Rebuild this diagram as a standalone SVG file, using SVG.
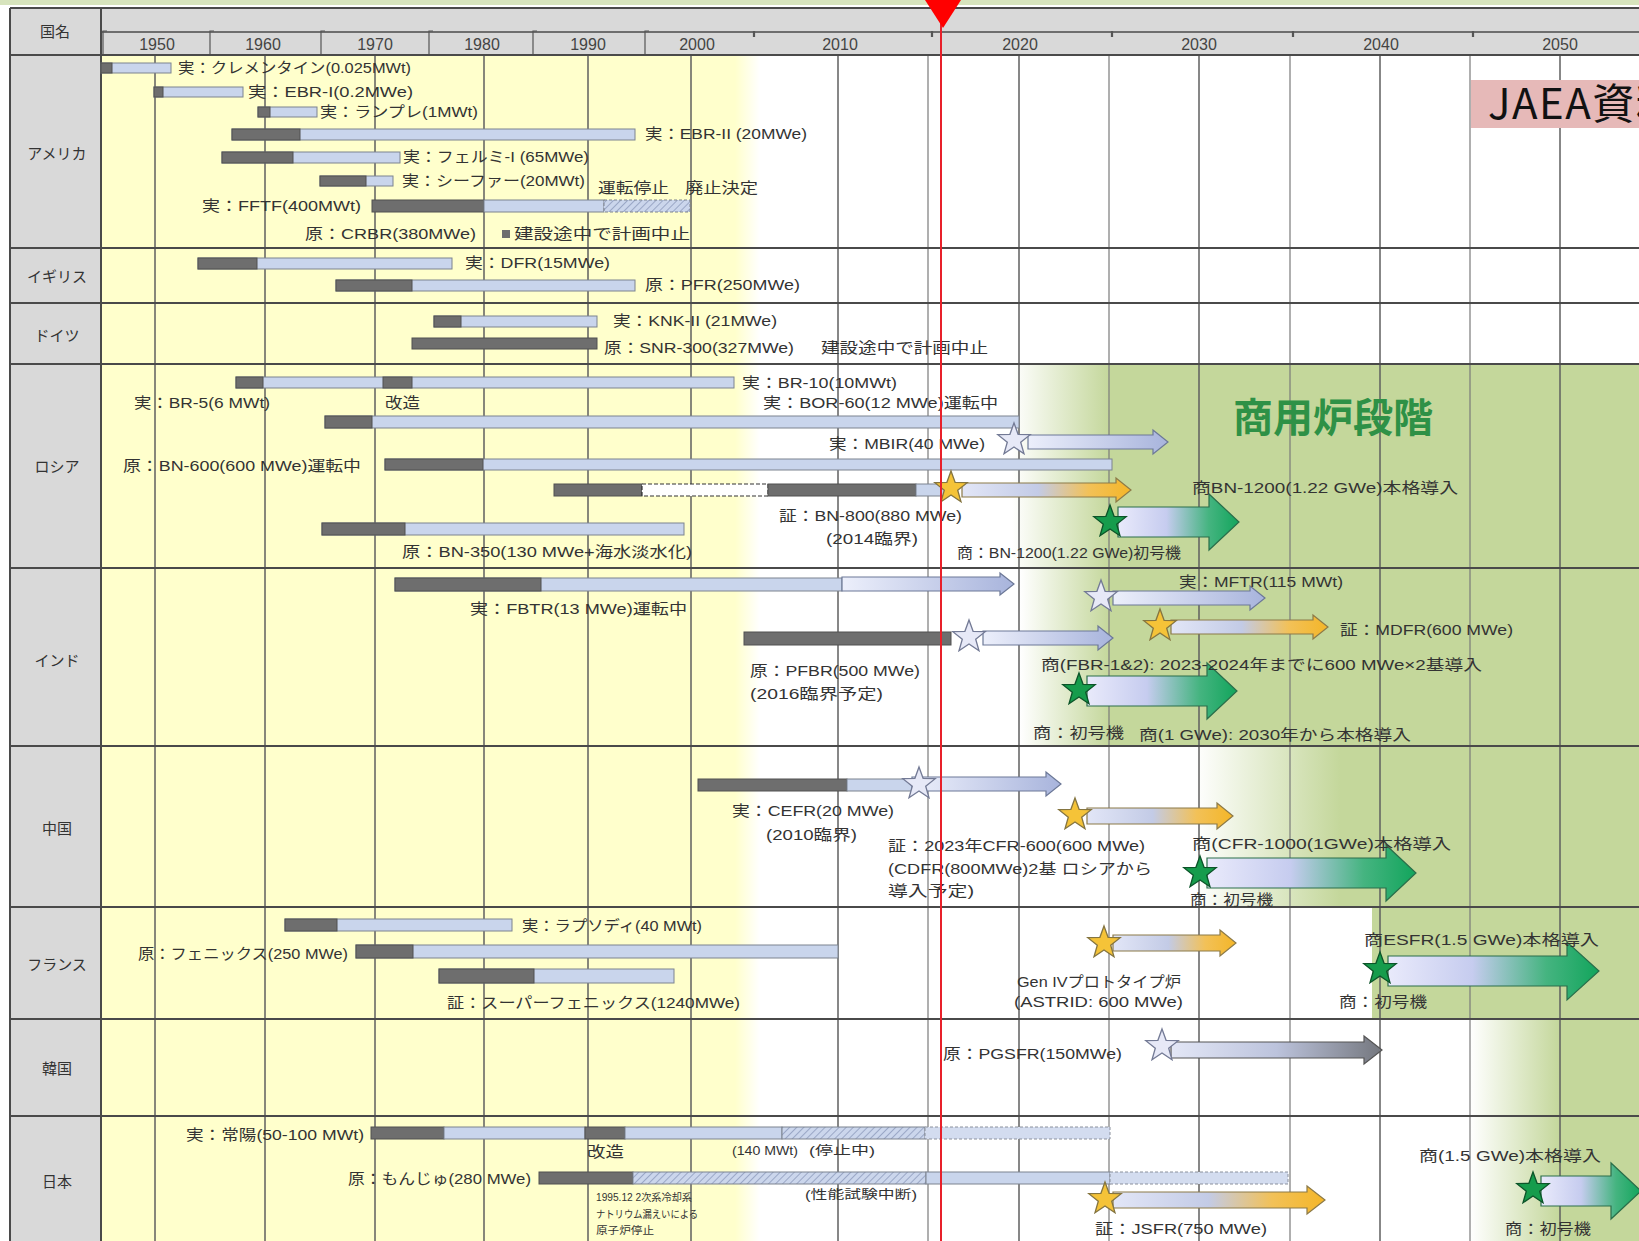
<svg xmlns="http://www.w3.org/2000/svg" width="1639" height="1241" viewBox="0 0 1639 1241">
<defs>
<style>
.t{font-family:"Liberation Sans","Noto Sans CJK JP",sans-serif;font-size:15px;fill:#333}
.s{font-size:10.5px}
.m{font-size:12.5px}
.cn{font-family:"Noto Sans CJK JP",sans-serif;font-size:15px;fill:#333;text-anchor:middle}
.yr{font-family:"Liberation Sans",sans-serif;font-size:16px;fill:#444;text-anchor:middle}
.dk{fill:#6e6e6e;stroke:#505050;stroke-width:1}
.lt{fill:#c9d5ec;stroke:#7d838f;stroke-width:1}
.ht{fill:url(#hatch);stroke:#7d838f;stroke-width:1}
.ds{fill:#d3dcef;stroke:#8a909c;stroke-width:1;stroke-dasharray:3 2}
.dw{fill:#fff;stroke:#333;stroke-width:1.2;stroke-dasharray:4 2}
.aB{fill:url(#gB);stroke:#6c7897;stroke-width:1.2}
.aY{fill:url(#gY);stroke:#8c7a48;stroke-width:1.2}
.aG{fill:url(#gG);stroke:#2a6e4a;stroke-width:1.2}
.aK{fill:url(#gK);stroke:#555;stroke-width:1.2}
.sL{fill:#e7e9f7;stroke:#737a95;stroke-width:1.3}
.sY{fill:#f5c338;stroke:#857540;stroke-width:1.3}
.sG{fill:#169c4c;stroke:#0c5429;stroke-width:1.3}
.gl{stroke:#5f5f5f;stroke-width:1.5}
.gm{stroke:#7a7a7a;stroke-width:1.2}
.rl{stroke:#4a4a4a;stroke-width:2}
.jb{font-family:"Noto Sans CJK JP",sans-serif;font-size:42px;letter-spacing:1.5px;fill:#111}
</style>
<pattern id="hatch" width="5" height="5" patternUnits="userSpaceOnUse" patternTransform="rotate(45)">
<rect width="5" height="5" fill="#cbd6ec"/><line x1="0" y1="0" x2="0" y2="5" stroke="#8d9bbd" stroke-width="1.6"/>
</pattern>
<linearGradient id="gB" x1="0" x2="1" y1="0" y2="0"><stop offset="0" stop-color="#eceffb"/><stop offset="1" stop-color="#a8b4dc"/></linearGradient>
<linearGradient id="gY" x1="0" x2="1" y1="0" y2="0"><stop offset="0" stop-color="#e2e6f7"/><stop offset="0.45" stop-color="#c3cbe6"/><stop offset="0.75" stop-color="#f2c158"/><stop offset="1" stop-color="#f4b628"/></linearGradient>
<linearGradient id="gG" x1="0" x2="1" y1="0" y2="0"><stop offset="0" stop-color="#e9eafb"/><stop offset="0.4" stop-color="#c6ccef"/><stop offset="0.75" stop-color="#45b480"/><stop offset="1" stop-color="#12a55c"/></linearGradient>
<linearGradient id="gK" x1="0" x2="1" y1="0" y2="0"><stop offset="0" stop-color="#e3e7f6"/><stop offset="0.5" stop-color="#bcc3dc"/><stop offset="1" stop-color="#74777e"/></linearGradient>
<linearGradient id="gYel" gradientUnits="userSpaceOnUse" x1="735" x2="760" y1="0" y2="0"><stop offset="0" stop-color="#ffffcc"/><stop offset="1" stop-color="#ffffcc" stop-opacity="0"/></linearGradient>
<linearGradient id="gRu" gradientUnits="userSpaceOnUse" x1="1012" x2="1110" y1="0" y2="0"><stop offset="0" stop-color="#c4d79b" stop-opacity="0"/><stop offset="1" stop-color="#c4d79b"/></linearGradient>
<linearGradient id="gIn" gradientUnits="userSpaceOnUse" x1="1020" x2="1110" y1="0" y2="0"><stop offset="0" stop-color="#c4d79b" stop-opacity="0"/><stop offset="1" stop-color="#c4d79b"/></linearGradient>
<linearGradient id="gCn" gradientUnits="userSpaceOnUse" x1="1195" x2="1340" y1="0" y2="0"><stop offset="0" stop-color="#c4d79b" stop-opacity="0"/><stop offset="1" stop-color="#c4d79b"/></linearGradient>
<linearGradient id="gKr" gradientUnits="userSpaceOnUse" x1="1470" x2="1560" y1="0" y2="0"><stop offset="0" stop-color="#c4d79b" stop-opacity="0"/><stop offset="1" stop-color="#c4d79b"/></linearGradient>
<polygon id="star" points="0,-17 4.1,-5.7 16.2,-5.3 6.7,2.2 10,13.8 0,7 -10,13.8 -6.7,2.2 -16.2,-5.3 -4.1,-5.7"/>
</defs>

<g id="background">
<rect x="0" y="0" width="1639" height="1241" fill="#ffffff"/>
<rect x="0" y="0" width="1639" height="5" fill="#d7e4bd"/>
<rect x="10" y="8" width="1629" height="47" fill="#d9d9d9"/>
<rect x="10" y="55" width="91" height="1186" fill="#d9d9d9"/>
<rect x="101" y="55" width="634" height="1186" fill="#ffffcc"/>
<rect x="735" y="55" width="25" height="1186" fill="url(#gYel)"/>
<rect x="1012" y="364" width="627" height="204" fill="url(#gRu)"/>
<rect x="1020" y="568" width="619" height="178" fill="url(#gIn)"/>
<rect x="1195" y="746" width="444" height="161" fill="url(#gCn)"/>
<rect x="1372" y="907" width="267" height="112" fill="#c4d79b"/>
<rect x="1470" y="1019" width="169" height="222" fill="url(#gKr)"/>
</g>

<g id="grid">
<g class="gl">
<line x1="155" y1="55" x2="155" y2="1241"/><line x1="265" y1="55" x2="265" y2="1241"/><line x1="375" y1="55" x2="375" y2="1241"/><line x1="484" y1="55" x2="484" y2="1241"/><line x1="588" y1="55" x2="588" y2="1241"/><line x1="691" y1="55" x2="691" y2="1241"/><line x1="838" y1="55" x2="838" y2="1241"/><line x1="1019" y1="55" x2="1019" y2="1241"/><line x1="1199" y1="55" x2="1199" y2="1241"/><line x1="1380" y1="55" x2="1380" y2="1241"/><line x1="1560" y1="55" x2="1560" y2="1241"/>
</g>
<g class="gm">
<line x1="928" y1="55" x2="928" y2="1241"/><line x1="1109" y1="55" x2="1109" y2="1241"/><line x1="1290" y1="55" x2="1290" y2="1241"/><line x1="1470" y1="55" x2="1470" y2="1241"/>
</g>
<g class="rl">
<line x1="10" y1="8" x2="1639" y2="8"/>
<line x1="101" y1="32" x2="1639" y2="32" stroke-width="1.5"/>
<line x1="10" y1="55" x2="1639" y2="55"/>
<line x1="10" y1="248" x2="1639" y2="248"/>
<line x1="10" y1="303" x2="1639" y2="303"/>
<line x1="10" y1="364" x2="1639" y2="364"/>
<line x1="10" y1="568" x2="1639" y2="568"/>
<line x1="10" y1="746" x2="1639" y2="746"/>
<line x1="10" y1="907" x2="1639" y2="907"/>
<line x1="10" y1="1019" x2="1639" y2="1019"/>
<line x1="10" y1="1116" x2="1639" y2="1116"/>
<line x1="10" y1="8" x2="10" y2="1241"/>
<line x1="101" y1="8" x2="101" y2="1241"/>
</g>
<g stroke="#555" stroke-width="1.2" fill="none">
<path d="M103 54V31h4M210 54V31h4M321 54V31h4M429 54V31h4M533 54V31h4M645 54V31h4"/>
<path d="M754 31v6M932 31v6M1112 31v6M1293 31v6M1473 31v6" stroke-width="2.2"/>
</g>
</g>

<g id="header">
<text class="cn" x="55" y="37">国名</text>
<text class="yr" x="157" y="50">1950</text><text class="yr" x="263" y="50">1960</text><text class="yr" x="375" y="50">1970</text><text class="yr" x="482" y="50">1980</text><text class="yr" x="588" y="50">1990</text><text class="yr" x="697" y="50">2000</text><text class="yr" x="840" y="50">2010</text><text class="yr" x="1020" y="50">2020</text><text class="yr" x="1199" y="50">2030</text><text class="yr" x="1381" y="50">2040</text><text class="yr" x="1560" y="50">2050</text>
</g>

<g id="countries">
<text class="cn" x="57" y="159">アメリカ</text>
<text class="cn" x="57" y="282">イギリス</text>
<text class="cn" x="57" y="341">ドイツ</text>
<text class="cn" x="57" y="472">ロシア</text>
<text class="cn" x="57" y="666">インド</text>
<text class="cn" x="57" y="834">中国</text>
<text class="cn" x="57" y="970">フランス</text>
<text class="cn" x="57" y="1074">韓国</text>
<text class="cn" x="57" y="1187">日本</text>
</g>

<g id="stage-labels">
<text x="1233" y="432" font-family="Noto Sans CJK JP,sans-serif" font-size="40" font-weight="bold" fill="#2e9146">商用炉段階</text>
<g id="source-box">
<rect x="1471" y="80" width="168" height="48" fill="#e6b9b8"/>
<text class="jb" x="1488" y="119">JAEA資料</text>
</g>
</g>

<g id="usa">
<g id="clementine"><rect class="lt" x="101" y="63" width="70" height="10"/><rect class="dk" x="101" y="63" width="11" height="10"/><text class="t" x="178" y="73" textLength="233" lengthAdjust="spacingAndGlyphs">実：クレメンタイン(0.025MWt)</text></g>
<g id="ebr1"><rect class="lt" x="154" y="87" width="89" height="10"/><rect class="dk" x="154" y="87" width="9" height="10"/><text class="t" x="248" y="97" textLength="165" lengthAdjust="spacingAndGlyphs">実：EBR-I(0.2MWe)</text></g>
<g id="lampre"><rect class="lt" x="258" y="107" width="59" height="10"/><rect class="dk" x="258" y="107" width="12" height="10"/><text class="t" x="320" y="117" textLength="158" lengthAdjust="spacingAndGlyphs">実：ランプレ(1MWt)</text></g>
<g id="ebr2"><rect class="lt" x="232" y="129" width="403" height="11"/><rect class="dk" x="232" y="129" width="68" height="11"/><text class="t" x="645" y="139" textLength="162" lengthAdjust="spacingAndGlyphs">実：EBR-II (20MWe)</text></g>
<g id="fermi"><rect class="lt" x="222" y="152" width="178" height="11"/><rect class="dk" x="222" y="152" width="71" height="11"/><text class="t" x="403" y="162" textLength="186" lengthAdjust="spacingAndGlyphs">実：フェルミ-I (65MWe)</text></g>
<g id="sefor"><rect class="lt" x="320" y="176" width="73" height="10"/><rect class="dk" x="320" y="176" width="46" height="10"/><text class="t" x="402" y="186" textLength="183" lengthAdjust="spacingAndGlyphs">実：シーファー(20MWt)</text><text class="t" x="598" y="193" textLength="71" lengthAdjust="spacingAndGlyphs">運転停止</text><text class="t" x="685" y="193" textLength="73" lengthAdjust="spacingAndGlyphs">廃止決定</text></g>
<g id="fftf"><rect class="dk" x="372" y="200" width="112" height="12"/><rect class="lt" x="484" y="200" width="120" height="12"/><rect class="ht" x="604" y="200" width="86" height="12" stroke-dasharray="3 2"/><text class="t" x="202" y="211" textLength="159" lengthAdjust="spacingAndGlyphs">実：FFTF(400MWt)</text></g>
<g id="crbr"><text class="t" x="305" y="239" textLength="171" lengthAdjust="spacingAndGlyphs">原：CRBR(380MWe)</text><rect x="502" y="230" width="8" height="8" fill="#6e6e6e"/><text class="t" x="514" y="239" textLength="176" lengthAdjust="spacingAndGlyphs">建設途中で計画中止</text></g>
</g>

<g id="uk">
<g id="dfr"><rect class="lt" x="198" y="258" width="254" height="11"/><rect class="dk" x="198" y="258" width="59" height="11"/><text class="t" x="465" y="268" textLength="145" lengthAdjust="spacingAndGlyphs">実：DFR(15MWe)</text></g>
<g id="pfr"><rect class="lt" x="336" y="280" width="299" height="11"/><rect class="dk" x="336" y="280" width="76" height="11"/><text class="t" x="645" y="290" textLength="155" lengthAdjust="spacingAndGlyphs">原：PFR(250MWe)</text></g>
</g>

<g id="germany">
<g id="knk2"><rect class="lt" x="434" y="316" width="163" height="11"/><rect class="dk" x="434" y="316" width="27" height="11"/><text class="t" x="613" y="326" textLength="164" lengthAdjust="spacingAndGlyphs">実：KNK-II (21MWe)</text></g>
<g id="snr300"><rect class="dk" x="412" y="338" width="185" height="11"/><text class="t" x="604" y="353" textLength="190" lengthAdjust="spacingAndGlyphs">原：SNR-300(327MWe)</text><text class="t" x="821" y="353" textLength="167" lengthAdjust="spacingAndGlyphs">建設途中で計画中止</text></g>
</g>

<g id="russia">
<g id="br5-br10"><rect class="lt" x="236" y="377" width="498" height="11"/><rect class="dk" x="236" y="377" width="27" height="11"/><rect class="dk" x="383" y="377" width="29" height="11"/><text class="t" x="742" y="388" textLength="155" lengthAdjust="spacingAndGlyphs">実：BR-10(10MWt)</text><text class="t" x="134" y="408" textLength="136" lengthAdjust="spacingAndGlyphs">実：BR-5(6 MWt)</text><text class="t" x="385" y="408" textLength="35" lengthAdjust="spacingAndGlyphs">改造</text></g>
<g id="bor60"><rect class="lt" x="325" y="416" width="694" height="12"/><rect class="dk" x="325" y="416" width="47" height="12"/><text class="t" x="763" y="408" textLength="235" lengthAdjust="spacingAndGlyphs">実：BOR-60(12 MWe)運転中</text></g>
<g id="mbir"><polygon class="aB" points="1028,435 1153,435 1153,430 1168,442 1153,454 1153,449 1028,449"/><use href="#star" x="1014" y="440" class="sL"/><text class="t" x="829" y="449" textLength="156" lengthAdjust="spacingAndGlyphs">実：MBIR(40 MWe)</text></g>
<g id="bn600"><rect class="lt" x="385" y="459" width="727" height="11"/><rect class="dk" x="385" y="459" width="98" height="11"/><text class="t" x="123" y="471" textLength="238" lengthAdjust="spacingAndGlyphs">原：BN-600(600 MWe)運転中</text></g>
<g id="bn800"><rect class="dk" x="554" y="484" width="88" height="12"/><rect class="dw" x="642" y="484" width="126" height="12"/><rect class="dk" x="768" y="484" width="148" height="12"/><rect class="lt" x="916" y="484" width="30" height="12"/><polygon class="aY" points="962,483 1116,483 1116,478 1131,490 1116,502 1116,497 962,497"/><use href="#star" x="951" y="488" class="sY"/><text class="t" x="779" y="521" textLength="183" lengthAdjust="spacingAndGlyphs">証：BN-800(880 MWe)</text><text class="t" x="826" y="544" textLength="92" lengthAdjust="spacingAndGlyphs">(2014臨界)</text></g>
<g id="bn350"><rect class="lt" x="322" y="523" width="362" height="12"/><rect class="dk" x="322" y="523" width="83" height="12"/><text class="t" x="402" y="557" textLength="290" lengthAdjust="spacingAndGlyphs">原：BN-350(130 MWe+海水淡水化)</text></g>
<g id="bn1200"><polygon class="aG" points="1118,507 1209,507 1209,494 1239,522 1209,550 1209,537 1118,537"/><use href="#star" x="1110" y="522" class="sG"/><text class="t" x="1192" y="493" textLength="266" lengthAdjust="spacingAndGlyphs">商BN-1200(1.22 GWe)本格導入</text><text class="t" x="957" y="558" textLength="224" lengthAdjust="spacingAndGlyphs">商：BN-1200(1.22 GWe)初号機</text></g>
</g>

<g id="india">
<g id="fbtr"><rect class="lt" x="395" y="578" width="447" height="13"/><rect class="dk" x="395" y="578" width="146" height="13"/><polygon class="aB" points="842,577 1000,577 1000,573 1014,584 1000,595 1000,591 842,591"/><text class="t" x="470" y="614" textLength="217" lengthAdjust="spacingAndGlyphs">実：FBTR(13 MWe)運転中</text></g>
<g id="mftr"><polygon class="aB" points="1113,591 1250,591 1250,586 1265,598 1250,610 1250,605 1113,605"/><use href="#star" x="1101" y="597" class="sL"/><text class="t" x="1179" y="587" textLength="164" lengthAdjust="spacingAndGlyphs">実：MFTR(115 MWt)</text></g>
<g id="mdfr"><polygon class="aY" points="1171,620 1313,620 1313,615 1328,627 1313,639 1313,634 1171,634"/><use href="#star" x="1160" y="626" class="sY"/><text class="t" x="1340" y="635" textLength="173" lengthAdjust="spacingAndGlyphs">証：MDFR(600 MWe)</text></g>
<g id="pfbr"><rect class="dk" x="744" y="632" width="207" height="13"/><polygon class="aB" points="983,631 1098,631 1098,626 1113,638 1098,650 1098,645 983,645"/><use href="#star" x="969" y="637" class="sL"/><text class="t" x="750" y="676" textLength="170" lengthAdjust="spacingAndGlyphs">原：PFBR(500 MWe)</text><text class="t" x="750" y="699" textLength="133" lengthAdjust="spacingAndGlyphs">(2016臨界予定)</text></g>
<g id="fbr12"><polygon class="aG" points="1087,676 1207,676 1207,663 1237,691 1207,719 1207,706 1087,706"/><use href="#star" x="1079" y="690" class="sG"/><text class="t" x="1041" y="670" textLength="441" lengthAdjust="spacingAndGlyphs">商(FBR-1&amp;2): 2023-2024年までに600 MWe×2基導入</text><text class="t" x="1033" y="738" textLength="91" lengthAdjust="spacingAndGlyphs">商：初号機</text><text class="t" x="1139" y="740" textLength="272" lengthAdjust="spacingAndGlyphs">商(1 GWe): 2030年から本格導入</text></g>
</g>

<g id="china">
<g id="cefr"><rect class="dk" x="698" y="779" width="149" height="12"/><rect class="lt" x="847" y="779" width="70" height="12"/><polygon class="aB" points="912,777 1046,777 1046,772 1061,784 1046,796 1046,791 912,791"/><use href="#star" x="919" y="784" class="sL"/><text class="t" x="732" y="816" textLength="162" lengthAdjust="spacingAndGlyphs">実：CEFR(20 MWe)</text><text class="t" x="766" y="840" textLength="91" lengthAdjust="spacingAndGlyphs">(2010臨界)</text></g>
<g id="cfr600"><polygon class="aY" points="1087,808 1217,808 1217,803 1233,816 1217,829 1217,824 1087,824"/><use href="#star" x="1075" y="815" class="sY"/><text class="t" x="888" y="851" textLength="257" lengthAdjust="spacingAndGlyphs">証：2023年CFR-600(600 MWe)</text><text class="t" x="888" y="874" textLength="264" lengthAdjust="spacingAndGlyphs">(CDFR(800MWe)2基 ロシアから</text><text class="t" x="888" y="896" textLength="86" lengthAdjust="spacingAndGlyphs">導入予定)</text></g>
<g id="cfr1000"><polygon class="aG" points="1207,858 1386,858 1386,845 1416,873 1386,901 1386,888 1207,888"/><use href="#star" x="1200" y="873" class="sG"/><text class="t" x="1192" y="849" textLength="259" lengthAdjust="spacingAndGlyphs">商(CFR-1000(1GWe)本格導入</text><text class="t" x="1190" y="905" textLength="83" lengthAdjust="spacingAndGlyphs">商：初号機</text></g>
</g>

<g id="france">
<g id="rapsodie"><rect class="lt" x="285" y="919" width="227" height="12"/><rect class="dk" x="285" y="919" width="52" height="12"/><text class="t" x="522" y="931" textLength="180" lengthAdjust="spacingAndGlyphs">実：ラプソディ(40 MWt)</text></g>
<g id="phenix"><rect class="lt" x="356" y="945" width="482" height="13"/><rect class="dk" x="356" y="945" width="57" height="13"/><text class="t" x="138" y="959" textLength="210" lengthAdjust="spacingAndGlyphs">原：フェニックス(250 MWe)</text></g>
<g id="superphenix"><rect class="lt" x="439" y="969" width="235" height="14"/><rect class="dk" x="439" y="969" width="95" height="14"/><text class="t" x="447" y="1008" textLength="293" lengthAdjust="spacingAndGlyphs">証：スーパーフェニックス(1240MWe)</text></g>
<g id="astrid"><polygon class="aY" points="1113,935 1220,935 1220,930 1236,943 1220,956 1220,951 1113,951"/><use href="#star" x="1104" y="943" class="sY"/><text class="t" x="1017" y="987" textLength="164" lengthAdjust="spacingAndGlyphs">Gen IVプロトタイプ炉</text><text class="t" x="1014" y="1007" textLength="169" lengthAdjust="spacingAndGlyphs">(ASTRID: 600 MWe)</text></g>
<g id="esfr"><polygon class="aG" points="1388,956 1567,956 1567,942 1599,971 1567,1000 1567,986 1388,986"/><use href="#star" x="1380" y="969" class="sG"/><text class="t" x="1364" y="945" textLength="235" lengthAdjust="spacingAndGlyphs">商ESFR(1.5 GWe)本格導入</text><text class="t" x="1339" y="1007" textLength="88" lengthAdjust="spacingAndGlyphs">商：初号機</text></g>
</g>

<g id="korea">
<g id="pgsfr"><polygon class="aK" points="1171,1042 1364,1042 1364,1036 1382,1050 1364,1064 1364,1058 1171,1058"/><use href="#star" x="1162" y="1046" class="sL"/><text class="t" x="943" y="1059" textLength="179" lengthAdjust="spacingAndGlyphs">原：PGSFR(150MWe)</text></g>
</g>

<g id="japan">
<g id="joyo"><rect class="dk" x="371" y="1127" width="73" height="12"/><rect class="lt" x="444" y="1127" width="141" height="12"/><rect class="dk" x="585" y="1127" width="40" height="12"/><rect class="lt" x="625" y="1127" width="157" height="12"/><rect class="ht" x="782" y="1127" width="143" height="12"/><rect class="ds" x="925" y="1127" width="185" height="12"/><text class="t" x="186" y="1140" textLength="178" lengthAdjust="spacingAndGlyphs">実：常陽(50-100 MWt)</text><text class="t" x="587" y="1157" textLength="37" lengthAdjust="spacingAndGlyphs">改造</text><text class="t m" x="732" y="1155" textLength="66" lengthAdjust="spacingAndGlyphs">(140 MWt)</text><text class="t m" x="809" y="1155" textLength="66" lengthAdjust="spacingAndGlyphs">(停止中)</text></g>
<g id="monju"><rect class="dk" x="539" y="1172" width="94" height="12"/><rect class="ht" x="633" y="1172" width="293" height="12"/><rect class="lt" x="926" y="1172" width="184" height="12"/><rect class="ds" x="1110" y="1172" width="178" height="12"/><text class="t" x="348" y="1184" textLength="183" lengthAdjust="spacingAndGlyphs">原：もんじゅ(280 MWe)</text><text class="t m" x="805" y="1199" textLength="112" lengthAdjust="spacingAndGlyphs">(性能試験中断)</text><text class="t s" x="596" y="1201" textLength="96" lengthAdjust="spacingAndGlyphs">1995.12  2次系冷却系</text><text class="t s" x="596" y="1218" textLength="102" lengthAdjust="spacingAndGlyphs">ナトリウム漏えいによる</text><text class="t s" x="596" y="1234" textLength="58" lengthAdjust="spacingAndGlyphs">原子炉停止</text></g>
<g id="jsfr"><polygon class="aY" points="1113,1192 1307,1192 1307,1186 1325,1200 1307,1214 1307,1208 1113,1208"/><use href="#star" x="1105" y="1199" class="sY"/><text class="t" x="1095" y="1234" textLength="172" lengthAdjust="spacingAndGlyphs">証：JSFR(750 MWe)</text></g>
<g id="jp-commercial"><polygon class="aG" points="1541,1176 1611,1176 1611,1163 1641,1191 1611,1219 1611,1206 1541,1206"/><use href="#star" x="1533" y="1189" class="sG"/><text class="t" x="1419" y="1161" textLength="182" lengthAdjust="spacingAndGlyphs">商(1.5 GWe)本格導入</text><text class="t" x="1505" y="1234" textLength="86" lengthAdjust="spacingAndGlyphs">商：初号機</text></g>
</g>

<g id="now-marker">
<line x1="941" y1="8" x2="941" y2="1241" stroke="#e8202a" stroke-width="2"/>
<polygon points="925,0 961,0 943,28" fill="#ff0000"/>
</g>
</svg>
